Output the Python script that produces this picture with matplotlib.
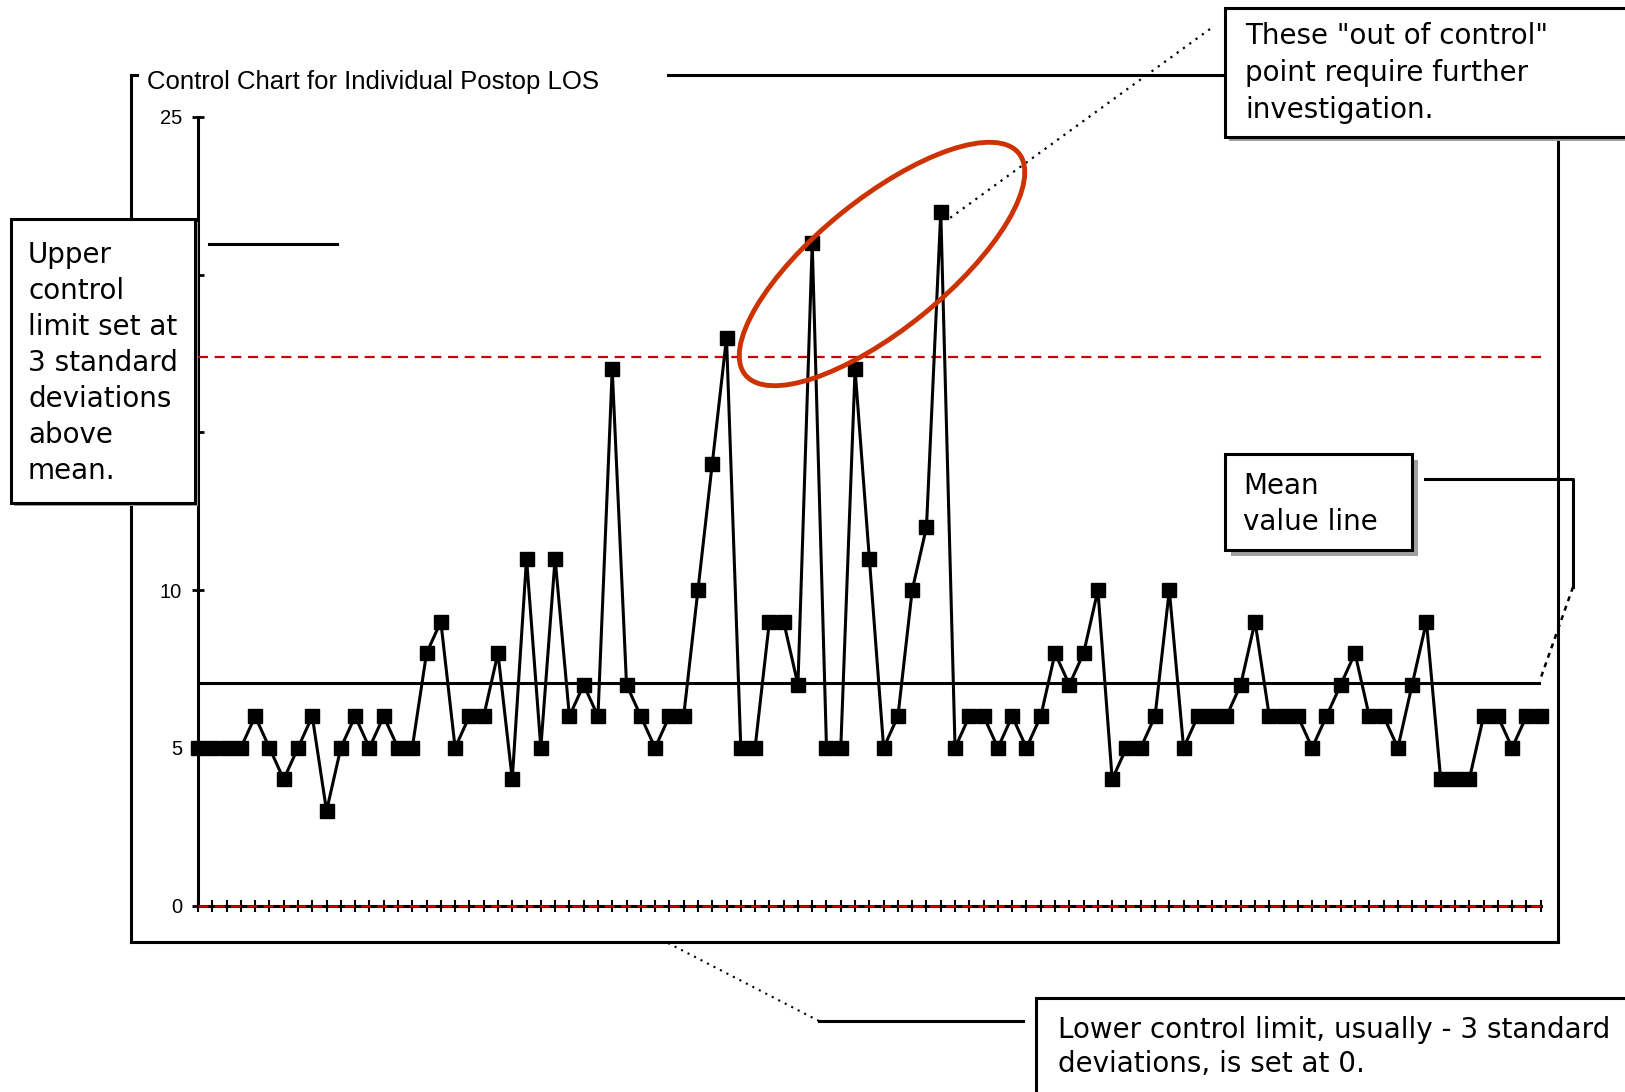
import matplotlib
matplotlib.use("Agg")
import matplotlib.pyplot as plt
import matplotlib.transforms as mtransforms
from matplotlib.patches import Rectangle, Ellipse
from matplotlib.lines import Line2D

# postop length of stay, one value per patient
los = [5, 5, 5, 5, 6, 5, 4, 5, 6, 3,
       5, 6, 5, 6, 5, 5, 8, 9, 5, 6,
       6, 8, 4, 11, 5, 11, 6, 7, 6, 17,
       7, 6, 5, 6, 6, 10, 14, 18, 5, 5,
       9, 9, 7, 21, 5, 5, 17, 11, 5, 6,
       10, 12, 22, 5, 6, 6, 5, 6, 5, 6,
       8, 7, 8, 10, 4, 5, 5, 6, 10, 5,
       6, 6, 6, 7, 9, 6, 6, 6, 5, 6,
       7, 8, 6, 6, 5, 7, 9, 4, 4, 4,
       6, 6, 5, 6, 6]
mean_los = 7.05
ucl = 17.4
lcl = 0
y_ticks = [0, 5, 10, 15, 20, 25]
# 15 and 20 sit under the note box in the original
y_tick_labels = ['0', '5', '10', '', '', '25']

title = 'Control Chart for Individual Postop LOS'
note_upper = 'Upper\ncontrol\nlimit set at\n3 standard\ndeviations\nabove\nmean.'
note_out = 'These "out of control"\npoint require further\ninvestigation.'
note_mean = 'Mean\nvalue line'
note_lower = 'Lower control limit, usually - 3 standard\ndeviations, is set at 0.'

W, H = 1625, 1092
fig = plt.figure(figsize=(W / 100, H / 100), dpi=100)
# pixel coords, origin top-left
px = mtransforms.Affine2D().scale(1 / W, -1 / H).translate(0, 1) + fig.transFigure

ax = fig.add_axes([198 / W, 1 - 905.5 / H, (1540.7 - 198) / W, (905.5 - 117) / H])
x = list(range(len(los)))
ax.plot(x, los, color='black', lw=2.2, marker='s', ms=10.5, clip_on=False, zorder=4)
ax.axhline(mean_los, color='black', lw=2.2, zorder=3)
ax.axhline(ucl, color='#cc0000', lw=1.6, ls=(0, (4.5, 3)), zorder=3)
ax.axhline(lcl, color='#cc0000', lw=1.8, ls=(0, (4, 2.5)), zorder=3, clip_on=False)

ax.set_xlim(0, len(los) - 1)
ax.set_ylim(0, 25)
ax.set_xticks(x)
ax.set_yticks(y_ticks)
ax.set_yticklabels(y_tick_labels, family='Liberation Sans')
ax.tick_params(axis='x', direction='inout', length=9, width=1.5, labelbottom=False)
ax.tick_params(axis='y', direction='inout', length=9, width=2, pad=7, labelsize=14.5)
for s in ['top', 'right']:
    ax.spines[s].set_visible(False)
for s in ['left', 'bottom']:
    ax.spines[s].set_linewidth(2.2)


def line(xs, ys, **kw):
    kw.setdefault('color', 'black')
    kw.setdefault('lw', 2.2)
    fig.add_artist(Line2D(xs, ys, transform=px, **kw))


def box(x0, y0, x1, y1, shadow=4):
    fig.add_artist(Rectangle((x0 + shadow, y0 + shadow), x1 - x0, y1 - y0, transform=px,
                             facecolor='#a0a0a0', edgecolor='none', zorder=5))
    fig.add_artist(Rectangle((x0, y0), x1 - x0, y1 - y0, transform=px,
                             facecolor='white', edgecolor='black', lw=2.2, zorder=6))


# chart area border
line([131, 137], [75, 75])
line([668, 1225], [75, 75])
line([131, 131], [75, 942])
line([131, 1558], [942, 942])
line([1558, 1558], [137, 942])

fig.text(147, 82, title, transform=px, fontsize=18.5, family='Liberation Sans', va='center')

# upper control limit note
box(11, 219, 195, 503, shadow=3)
fig.text(28, 363, note_upper, transform=px, fontsize=20, va='center', linespacing=1.36, zorder=7)
line([209, 337], [244, 244])

# out of control note
box(1225, 8, 1660, 137)
fig.text(1245, 73, note_out, transform=px, fontsize=20, va='center', linespacing=1.42, zorder=7)
line([1210, 950], [29, 218], lw=1.6, ls=(0, (1, 2.5)))
fig.add_artist(Ellipse((882, 264), 352, 130, angle=-39, transform=px, fill=False,
                       edgecolor='#cc3300', lw=3.5, zorder=4))
fig.text(1600, 22, 'L', transform=px, fontsize=20, color='#0000cc', va='center')

# mean note
box(1225, 454, 1412, 550, shadow=6)
fig.text(1243, 504, note_mean, transform=px, fontsize=20, va='center', linespacing=1.33, zorder=7)
line([1425, 1573, 1573], [479, 479, 587])
line([1573, 1540], [587, 680], lw=1.8, ls=(0, (2, 2)))

# lower control limit note
box(1036, 998, 1700, 1120)
fig.text(1058, 1047, note_lower, transform=px, fontsize=20, va='center', linespacing=1.3, zorder=7)
line([1023, 819], [1021, 1021])
line([819, 668], [1021, 943], lw=1.5, ls=(0, (1, 2.5)))

fig.savefig('out.png', dpi=100)
